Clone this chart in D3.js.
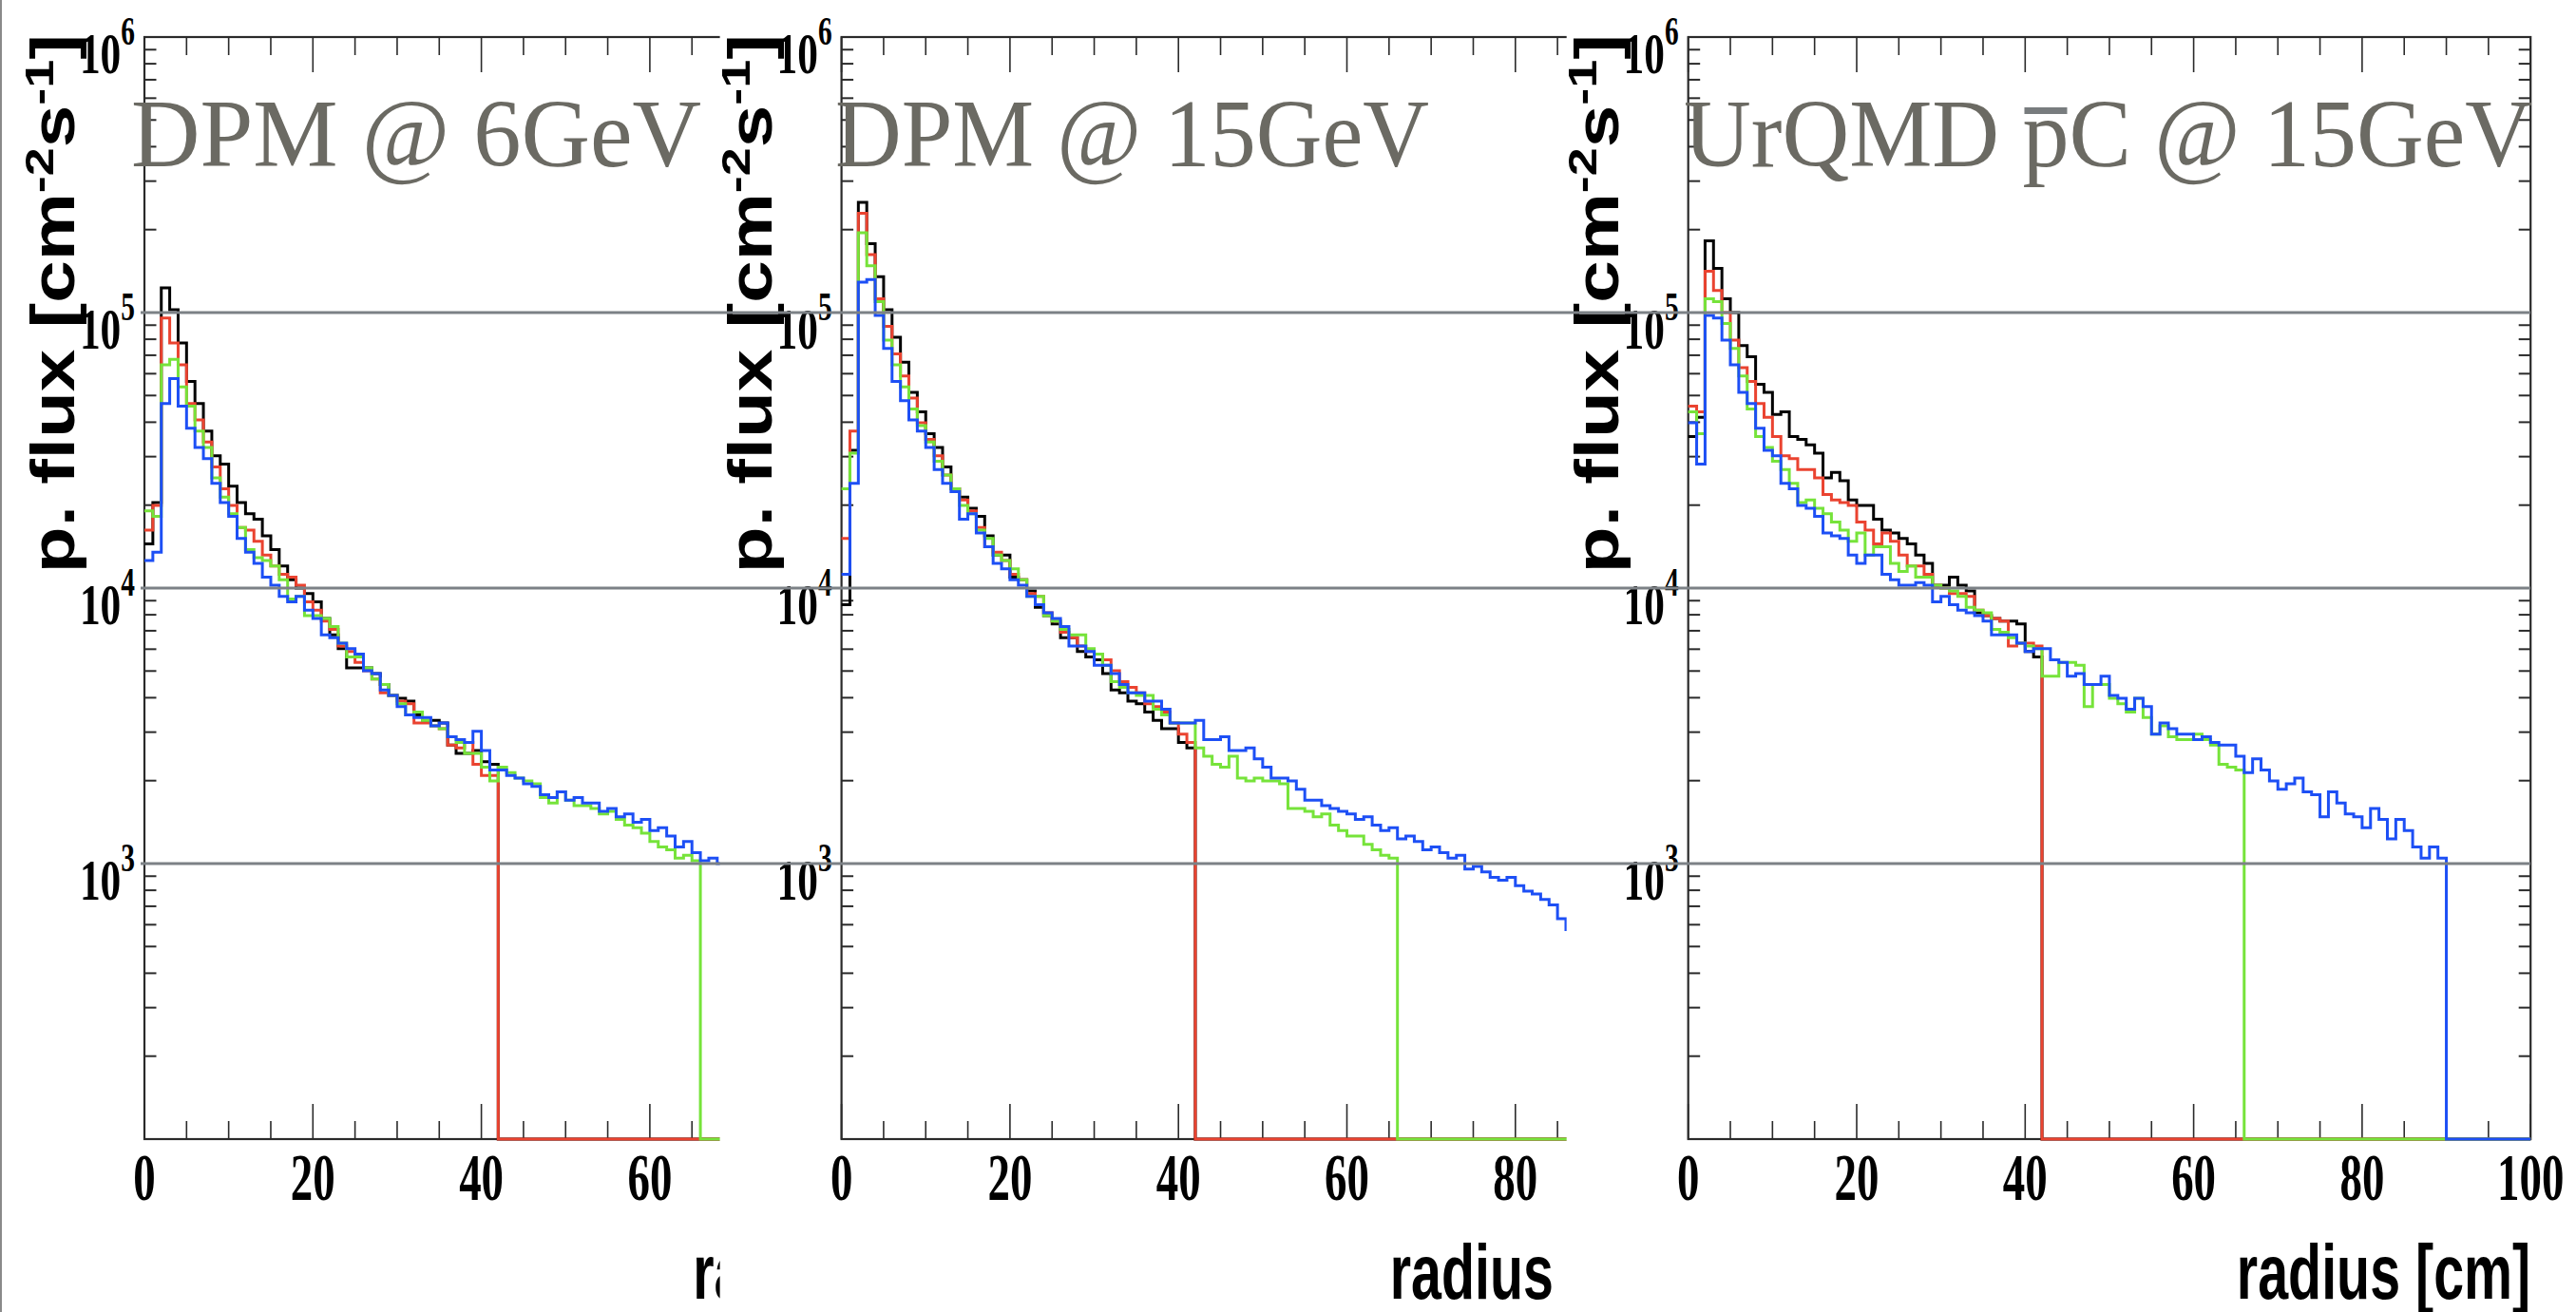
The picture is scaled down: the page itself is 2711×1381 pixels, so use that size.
<!DOCTYPE html>
<html lang="en">
<head>
<meta charset="UTF-8">
<script src="https://d3js.org/d3.v7.min.js"></script>
<title>p. flux vs radius</title>
<style>
  body { margin: 0; background: white; }
  svg { display: block; }
  .num { font-family: "Liberation Serif", "Times New Roman", serif; font-weight: bold; fill: #000; }
  .axis-title { font-family: "Liberation Sans", Arial, sans-serif; font-weight: bold; fill: #000; }
  .panel-title { font-family: "Liberation Serif", "Times New Roman", serif; fill: #6b6a63; }
</style>
</head>
<body>
<div id="chart"></div>
<script>
// bins are 1 cm wide starting at r = 0; values are log10 of the flux
const xTicks = [0, 20, 40, 60, 80, 100];
const yLabelExps = [3, 4, 5, 6];
const gridExps = [3, 4, 5];
const panelTitles = ["DPM @ 6GeV", "DPM @ 15GeV", "UrQMD pC @ 15GeV"];
const seriesColors = ["#000000", "#ea4330", "#76e33a", "#1d4ff5"];

// DPM @ 6GeV
const dpm6Black = [4.16,4.31,5.09,5.01,4.89,4.75,4.67,4.57,4.48,4.45,4.37,4.31,4.27,4.25,4.19,4.14,4.08,4.03,4.00,3.98,3.95,
  3.89,3.83,3.78,3.71,3.71,3.71,3.69,3.65,3.61,3.60,3.59,3.54,3.52,3.52,3.51,3.43,3.40,3.40,3.41,3.37,3.36];
const dpm6Red = [4.21,4.30,4.98,4.89,4.81,4.67,4.61,4.53,4.44,4.36,4.30,4.22,4.21,4.17,4.12,4.08,4.05,4.04,4.01,3.95,3.92,
  3.88,3.85,3.79,3.77,3.73,3.70,3.67,3.62,3.61,3.59,3.58,3.51,3.51,3.50,3.49,3.43,3.42,3.44,3.36,3.32,3.32];
const dpm6Green = [4.28,4.26,4.81,4.83,4.73,4.66,4.57,4.51,4.40,4.33,4.27,4.22,4.14,4.11,4.10,4.08,4.03,3.96,3.97,3.90,3.90,
  3.89,3.86,3.80,3.75,3.75,3.71,3.67,3.65,3.61,3.58,3.54,3.55,3.52,3.50,3.49,3.46,3.44,3.40,3.40,3.35,3.30,
  3.35,3.33,3.31,3.30,3.29,3.24,3.22,3.26,3.23,3.21,3.21,
  3.20,3.18,3.19,3.16,3.14,3.13,3.11,3.08,3.06,3.05,3.02,3.03,3.01];
const dpm6Blue = [4.10,4.13,4.67,4.76,4.66,4.58,4.51,4.47,4.38,4.31,4.26,4.18,4.13,4.09,4.04,4.01,3.97,3.95,3.97,3.92,3.89,
  3.83,3.82,3.80,3.78,3.76,3.70,3.69,3.63,3.61,3.57,3.54,3.53,3.53,3.50,3.51,3.46,3.45,3.44,3.48,3.41,3.34,
  3.34,3.32,3.31,3.29,3.28,3.25,3.24,3.26,3.23,3.24,3.22,
  3.22,3.19,3.20,3.17,3.18,3.15,3.16,3.12,3.13,3.10,3.06,3.08,3.04,3.01,3.02,3.00];

// DPM @ 15GeV
const dpm15Black = [3.94,4.50,5.40,5.25,5.13,5.01,4.91,4.82,4.71,4.64,4.56,4.51,4.44,4.36,4.33,4.29,4.26,4.19,4.12,4.12,4.04,4.03,3.99,3.93,
  3.90,3.87,3.82,3.82,3.77,3.75,3.74,3.69,3.63,3.62,3.59,3.58,3.55,3.52,3.49,3.49,3.44,3.42];
const dpm15Red = [4.18,4.57,5.36,5.21,5.05,4.95,4.85,4.77,4.69,4.60,4.54,4.48,4.41,4.36,4.32,4.28,4.22,4.15,4.13,4.10,4.05,4.03,3.98,3.97,
  3.91,3.88,3.84,3.82,3.79,3.77,3.76,3.74,3.70,3.66,3.64,3.62,3.58,3.57,3.55,3.51,3.47,3.44];
const dpm15Green = [4.36,4.49,5.29,5.17,5.04,4.90,4.81,4.73,4.65,4.59,4.53,4.46,4.41,4.36,4.30,4.27,4.21,4.18,4.12,4.10,4.07,4.03,3.97,3.97,
  3.90,3.88,3.85,3.83,3.83,3.78,3.76,3.72,3.66,3.64,3.62,3.61,3.61,3.56,3.54,3.51,3.51,3.51,
  3.42,3.39,3.36,3.35,3.39,3.31,3.30,3.31,3.30,3.30,3.29,3.20,3.20,
  3.19,3.17,3.18,3.14,3.12,3.10,3.10,3.07,3.05,3.03,3.02];
const dpm15Blue = [4.05,4.38,5.11,5.12,4.99,4.87,4.75,4.68,4.61,4.57,4.51,4.43,4.38,4.35,4.25,4.27,4.20,4.15,4.09,4.07,4.03,4.01,3.97,3.94,
  3.91,3.89,3.86,3.79,3.79,3.77,3.72,3.72,3.69,3.65,3.62,3.62,3.59,3.59,3.56,3.51,3.51,3.51,
  3.52,3.45,3.45,3.46,3.41,3.41,3.42,3.38,3.35,3.31,3.31,3.30,3.27,3.23,3.23,3.21,3.20,3.19,
  3.18,3.16,3.17,3.14,3.12,3.13,3.09,3.10,3.08,3.05,3.06,3.04,3.02,3.03,2.98,2.99,2.97,2.95,2.94,2.95,2.92,2.90,2.89,2.87,2.85,2.80,2.76];

// UrQMD pbar-C @ 15GeV
const urqmdBlack = [4.55,4.62,5.26,5.16,5.05,5.00,4.88,4.84,4.74,4.71,4.63,4.64,4.55,4.54,4.52,4.49,4.40,4.42,4.39,4.32,4.30,4.30,4.25,4.21,4.20,4.18,4.16,4.12,4.09,4.01,4.01,4.04,4.01,3.99,
  3.91,3.90,3.89,3.88,3.88,3.87,3.77,3.75];
const urqmdRed = [4.66,4.64,5.15,5.08,5.00,4.90,4.80,4.75,4.67,4.62,4.55,4.48,4.47,4.43,4.43,4.40,4.34,4.32,4.31,4.30,4.24,4.21,4.16,4.20,4.17,4.12,4.08,4.08,4.05,4.01,4.00,3.98,3.98,3.97,
  3.92,3.90,3.89,3.88,3.79,3.80,3.80,3.79];
const urqmdGreen = [4.64,4.56,5.05,5.04,4.96,4.87,4.77,4.65,4.55,4.51,4.46,4.43,4.38,4.31,4.32,4.29,4.27,4.24,4.21,4.17,4.20,4.12,4.15,4.15,4.09,4.06,4.08,4.04,4.04,4.01,4.00,3.99,3.97,3.93,
  3.92,3.91,3.85,3.84,3.82,3.80,3.79,3.78,3.68,3.68,3.73,3.73,3.72,3.57,3.65,3.65,3.60,3.58,3.55,3.60,3.53,3.47,3.50,3.46,3.45,3.45,3.47,3.45,3.43,3.36,3.35,3.34];
const urqmdBlue = [4.60,4.45,4.99,4.98,4.90,4.81,4.71,4.67,4.58,4.50,4.48,4.38,4.36,4.30,4.29,4.26,4.20,4.19,4.18,4.12,4.09,4.12,4.12,4.05,4.03,4.01,4.01,4.02,4.01,3.95,3.97,3.94,3.92,3.91,
  3.90,3.88,3.83,3.83,3.83,3.80,3.77,3.78,3.78,3.74,3.73,3.68,3.69,3.65,3.65,3.68,
  3.61,3.60,3.56,3.60,3.57,3.47,3.51,3.49,3.47,3.47,3.45,3.46,3.44,3.43,3.43,3.39,
  3.33,3.38,3.34,3.30,3.27,3.29,3.31,3.26,3.25,3.17,3.26,3.22,3.18,3.17,3.13,3.20,
  3.16,3.09,3.16,3.12,3.06,3.02,3.06,3.02];

const panelSeries = [
  [dpm6Black, dpm6Red, dpm6Green, dpm6Blue],
  [dpm15Black, dpm15Red, dpm15Green, dpm15Blue],
  [urqmdBlack, urqmdRed, urqmdGreen, urqmdBlue]
];

const W = 2711, H = 1381;
const panelLeft = [152, 885.6, 1776.7];   // x of r = 0 in each pad
const plotW = 886.5;                       // r = 0 .. 100
const yTop = 39, yBot = 1199;
const squeeze = 0.7;                       // the original pads were squashed sideways

const svg = d3.select("#chart").append("svg")
  .attr("width", W)
  .attr("height", H);

svg.append("rect").attr("width", W).attr("height", H).attr("fill", "white");

function histPath(vals, x, y) {
  const pts = [];
  vals.forEach((v, k) => {
    const py = y(Math.pow(10, v));
    pts.push([x(k), py], [x(k + 1), py]);
  });
  // empty bins of a log plot sit on the bottom of the frame
  pts.push([x(vals.length), yBot], [x(100), yBot]);
  return d3.line()(pts);
}

panelSeries.forEach((series, i) => {
  const x0 = panelLeft[i];
  const x = d3.scaleLinear().domain([0, 100]).range([x0, x0 + plotW]);
  const y = d3.scaleLog().domain([1e2, 1e6]).range([yBot, yTop]);
  const g = svg.append("g");

  // each pad is opaque and sits over the right part of the previous one
  g.append("rect")
    .attr("x", i === 0 ? 0 : x0 - 128)
    .attr("y", 0)
    .attr("width", W)
    .attr("height", H)
    .attr("fill", "white");

  const frame = g.append("g").attr("stroke", "#2a2a2a").attr("fill", "none");
  frame.append("rect")
    .attr("x", x0).attr("y", yTop)
    .attr("width", plotW).attr("height", yBot - yTop)
    .attr("stroke-width", 2.2);

  d3.range(0, 101, 5).forEach(t => {
    const len = t % 20 === 0 ? 37 : 19;
    frame.append("line").attr("x1", x(t)).attr("x2", x(t)).attr("y1", yBot).attr("y2", yBot - len).attr("stroke-width", 1.6);
    frame.append("line").attr("x1", x(t)).attr("x2", x(t)).attr("y1", yTop).attr("y2", yTop + len).attr("stroke-width", 1.6);
  });

  for (let e = 2; e < 6; e++) {
    for (let m = 1; m < 10; m++) {
      const v = m * Math.pow(10, e);
      const len = m === 1 ? 26 : 12.5;
      frame.append("line").attr("x1", x0).attr("x2", x0 + len).attr("y1", y(v)).attr("y2", y(v)).attr("stroke-width", 2);
      frame.append("line").attr("x1", x0 + plotW).attr("x2", x0 + plotW - len).attr("y1", y(v)).attr("y2", y(v)).attr("stroke-width", 2);
    }
  }

  series.forEach((vals, s) => {
    g.append("path")
      .attr("d", histPath(vals, x, y))
      .attr("fill", "none")
      .attr("stroke", seriesColors[s])
      .attr("stroke-width", 3)
      .attr("stroke-linejoin", "miter");
  });

  // x tick labels
  xTicks.forEach(t => {
    g.append("g")
      .attr("transform", `translate(${x(t)},${yBot + 64}) scale(0.67,1)`)
      .append("text")
      .attr("class", "num")
      .attr("text-anchor", "middle")
      .attr("font-size", 70)
      .text(t);
  });

  // y tick labels 10^n
  yLabelExps.forEach(e => {
    const t = g.append("g")
      .attr("transform", `translate(${x0 - 10},${y(Math.pow(10, e)) + 38}) scale(${squeeze},1)`)
      .append("text")
      .attr("class", "num")
      .attr("text-anchor", "end")
      .attr("font-size", 62);
    t.append("tspan").text("10");
    t.append("tspan").attr("dy", -30).attr("font-size", 42).text(e);
  });

  // axis titles
  g.append("g")
    .attr("transform", `translate(${x0 + plotW},${yBot + 168}) scale(${squeeze},1)`)
    .append("text")
    .attr("class", "axis-title")
    .attr("text-anchor", "end")
    .attr("font-size", 82)
    .text("radius [cm]");

  const yt = g.append("g")
    .attr("transform", `translate(${x0 - 74},36) scale(0.8,1) rotate(-90)`)
    .append("text")
    .attr("class", "axis-title")
    .attr("text-anchor", "end")
    .attr("font-size", 80);
  yt.append("tspan").text("p. flux [cm");
  yt.append("tspan").attr("dy", -28).attr("font-size", 54).text("-2");
  yt.append("tspan").attr("dy", 28).text("s");
  yt.append("tspan").attr("dy", -28).attr("font-size", 54).text("-1");
  yt.append("tspan").attr("dy", 28).text("]");
});

// horizontal grid at the decades runs across all pads
gridExps.forEach(e => {
  const yy = d3.scaleLog().domain([1e2, 1e6]).range([yBot, yTop])(Math.pow(10, e));
  svg.append("line")
    .attr("x1", 148).attr("x2", 2663)
    .attr("y1", yy).attr("y2", yy)
    .attr("stroke", "#7c8186")
    .attr("stroke-width", 2.8);
});

// pad titles
const titleStart = [138, 879, 1772];
const titleLen = [600, 625, 893];
panelTitles.forEach((t, i) => {
  const tx = svg.append("text")
    .attr("class", "panel-title")
    .attr("x", titleStart[i])
    .attr("y", 175)
    .attr("font-size", 102)
    .attr("textLength", titleLen[i])
    .attr("lengthAdjust", "spacingAndGlyphs")
    .text(t);
  if (i === 2) {
    // bar over the p of pbar
    const ext = tx.node().getExtentOfChar(6);
    svg.append("rect")
      .attr("x", ext.x + 2)
      .attr("y", 113)
      .attr("width", ext.width - 4)
      .attr("height", 7)
      .attr("fill", "#787c7e");
  }
});

// thin frame on the left edge of the figure
svg.append("line")
  .attr("x1", 1).attr("x2", 1).attr("y1", 0).attr("y2", H)
  .attr("stroke", "#8a8a8a").attr("stroke-width", 2);
</script>
</body>
</html>
